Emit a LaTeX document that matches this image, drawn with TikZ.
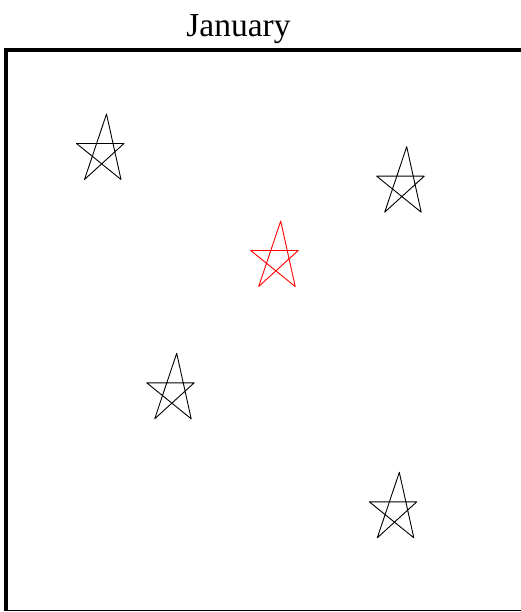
\documentclass[tikz,border=0pt]{standalone}
\usepackage{fontspec}
\setmainfont{Liberation Serif}
\begin{document}
\begin{tikzpicture}[x=1pt,y=-1pt,
  starline/.style={line width=0.9pt, line join=round, line cap=round},
  star/.pic={\draw[starline] (0,0) -- (-22,65.5) -- (17.5,29.5) -- (-30,29.5) -- (14.5,65.5) -- cycle;},
  frame/.style={line width=4pt},
  thinframe/.style={line width=1pt}]
\useasboundingbox (0,0) rectangle (521,612);
\node[font=\fontsize{33.5}{40}\selectfont, anchor=base, inner sep=0pt] (title) at (238.5,36.5) {January};
\coordinate (tl) at (6,50);
\coordinate (tr) at (530,50);
\coordinate (bl) at (6,611);
\coordinate (br) at (530,610.5);
\draw[frame] (bl) -- (tl) -- (tr);
\draw[thinframe] (6,610.5) -- (br);
\pic[black] at (106.5,114) {star};
\pic[red] at (280.7,221) {star};
\pic[black] at (406.7,146.7) {star};
\pic[black] at (176.7,353.3) {star};
\pic[black] at (399.3,472.3) {star};
\end{tikzpicture}
\end{document}
